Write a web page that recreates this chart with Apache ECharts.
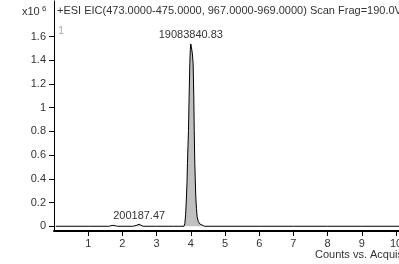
<!DOCTYPE html>
<html><head><meta charset="utf-8">
<script src="https://cdn.jsdelivr.net/npm/echarts@6/dist/echarts.min.js"></script>
<style>html,body{margin:0;padding:0;background:#fff;overflow:hidden;width:399px;height:264px}#c{width:520px;height:264px}</style>
</head><body><div id="c"></div>
<script>
// Acquisition time (min)
const times = [0.05, 1.0, 1.6, 1.66, 1.73, 1.8, 1.86, 2.3, 2.4, 2.45, 2.49, 2.54, 2.6, 3.0, 3.5, 3.8, 3.825, 3.85, 3.873, 3.89, 3.902, 3.918, 3.932, 3.951, 3.971, 3.986, 4.0, 4.02, 4.045, 4.068, 4.088, 4.1, 4.117, 4.146, 4.165, 4.185, 4.22, 4.26, 4.312, 4.4, 5.0, 6.0, 7.0, 8.0, 9.0, 10.0, 11.0];
// Counts (x10^6)
const counts = [0, 0, 0, 0.004, 0.008, 0.004, 0, 0, 0.006, 0.014, 0.017, 0.012, 0, 0, 0, 0, 0.022, 0.1, 0.247, 0.38, 0.528, 0.68, 0.808, 1.089, 1.37, 1.49, 1.538, 1.53, 1.46, 1.37, 1.089, 0.808, 0.528, 0.247, 0.15, 0.079, 0.04, 0.02, 0.008, 0, 0, 0, 0, 0, 0, 0, 0];
const peakTimes = [2.49, 4.0];
const peakLabels = ['200187.47', '19083840.83'];
const yTicks = [0, 0.2, 0.4, 0.6, 0.8, 1, 1.2, 1.4, 1.6];
const xTicks = [1, 2, 3, 4, 5, 6, 7, 8, 9, 10, 11];
const titleText = '+ESI EIC(473.0000-475.0000, 967.0000-969.0000) Scan Frag=190.0V';
const xName = 'Counts vs. Acquisition Time (min)';

const font = 'Liberation Sans, Arial, sans-serif';
const data = times.map((t, i) => [t, counts[i]]);
const marks = peakTimes.map((t, k) => {
  const i = times.indexOf(t);
  return { coord: [t, counts[i]], value: peakLabels[k] };
});

const chart = echarts.init(document.getElementById('c'), null, { renderer: 'canvas' });
chart.setOption({
  animation: false,
  backgroundColor: '#fff',
  grid: { left: 54, top: 1, width: 11 * 34.2, height: 230, containLabel: false },
  xAxis: {
    type: 'value', min: 0, max: 11,
    axisLine: { show: true, onZero: false, lineStyle: { color: '#000', width: 2 } },
    axisTick: { show: true, length: 5, customValues: xTicks, lineStyle: { color: '#000' } },
    axisLabel: { customValues: xTicks, margin: 7, color: '#333', fontSize: 11, fontFamily: font },
    splitLine: { show: false }
  },
  yAxis: {
    type: 'value', min: -0.04, max: 1.9,
    axisLine: { show: true, lineStyle: { color: '#000', width: 1 } },
    axisTick: { show: true, length: 5, customValues: yTicks, lineStyle: { color: '#000' } },
    axisLabel: { customValues: yTicks, margin: 8, color: '#333', fontSize: 11, fontFamily: font },
    splitLine: { show: false }
  },
  series: [{
    type: 'line',
    data: data,
    symbol: 'none',
    lineStyle: { color: '#000', width: 1 },
    areaStyle: { color: '#c0c0c0', opacity: 1 },
    markPoint: {
      symbol: 'circle', symbolSize: 0,
      label: { show: true, position: 'top', distance: 3, formatter: p => p.value, color: '#333', fontSize: 11, fontFamily: font },
      data: marks
    }
  }],
  graphic: [
    { type: 'text', left: 57, top: 5, style: { text: titleText, fill: '#333', font: '11px ' + font } },
    { type: 'text', left: 22, top: 5, style: { text: '{a|x10}{b| 6}', rich: { a: { fontSize: 11, fontFamily: font, fill: '#333', verticalAlign: 'bottom' }, b: { fontSize: 8, fontFamily: font, fill: '#333', verticalAlign: 'top', padding: [0, 0, 4, 0] } } } },
    { type: 'text', left: 58, top: 25, style: { text: '1', fill: '#aaa', font: '11px ' + font } },
    { type: 'text', left: 315, top: 249, style: { text: xName, fill: '#333', font: '11px ' + font } }
  ]
});
</script></body></html>
